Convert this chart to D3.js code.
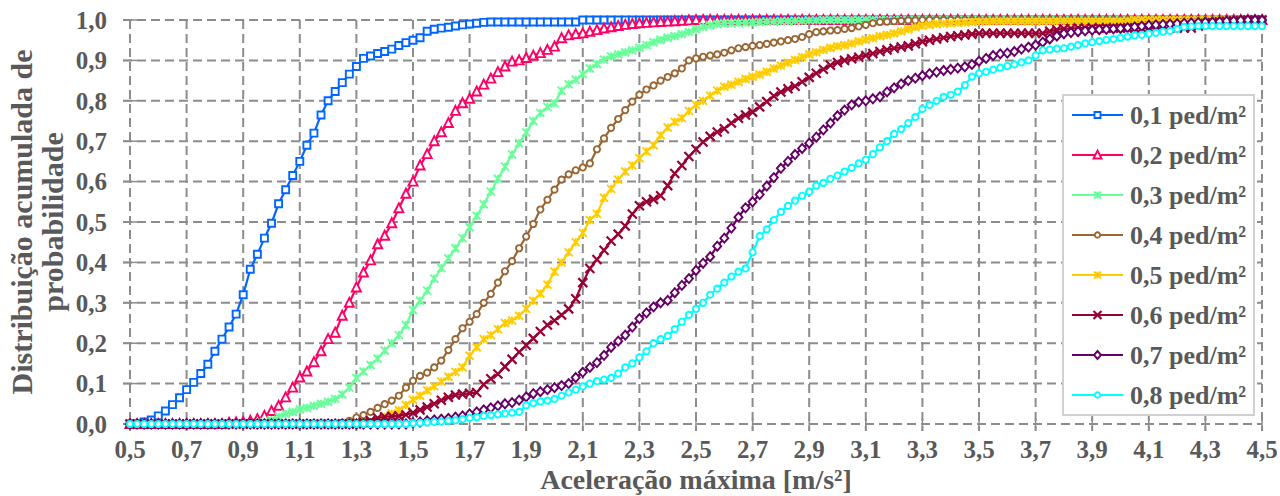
<!DOCTYPE html>
<html>
<head>
<meta charset="utf-8">
<script src="https://cdn.jsdelivr.net/npm/d3@7"></script>
<style>
  html, body { margin: 0; padding: 0; background: #fff; }
  svg { display: block; }
  text { font-family: "Liberation Serif", "Times New Roman", serif; font-weight: bold; fill: #595959; }
</style>
</head>
<body>
<svg id="chart" width="1280" height="496"></svg>
<script>
// Aceleração máxima [m/s²], read every 0.025
const acceleration = [
  0.500, 0.525, 0.550, 0.575, 0.600, 0.625, 0.650, 0.675, 0.700, 0.725,
  0.750, 0.775, 0.800, 0.825, 0.850, 0.875, 0.900, 0.925, 0.950, 0.975,
  1.000, 1.025, 1.050, 1.075, 1.100, 1.125, 1.150, 1.175, 1.200, 1.225,
  1.250, 1.275, 1.300, 1.325, 1.350, 1.375, 1.400, 1.425, 1.450, 1.475,
  1.500, 1.525, 1.550, 1.575, 1.600, 1.625, 1.650, 1.675, 1.700, 1.725,
  1.750, 1.775, 1.800, 1.825, 1.850, 1.875, 1.900, 1.925, 1.950, 1.975,
  2.000, 2.025, 2.050, 2.075, 2.100, 2.125, 2.150, 2.175, 2.200, 2.225,
  2.250, 2.275, 2.300, 2.325, 2.350, 2.375, 2.400, 2.425, 2.450, 2.475,
  2.500, 2.525, 2.550, 2.575, 2.600, 2.625, 2.650, 2.675, 2.700, 2.725,
  2.750, 2.775, 2.800, 2.825, 2.850, 2.875, 2.900, 2.925, 2.950, 2.975,
  3.000, 3.025, 3.050, 3.075, 3.100, 3.125, 3.150, 3.175, 3.200, 3.225,
  3.250, 3.275, 3.300, 3.325, 3.350, 3.375, 3.400, 3.425, 3.450, 3.475,
  3.500, 3.525, 3.550, 3.575, 3.600, 3.625, 3.650, 3.675, 3.700, 3.725,
  3.750, 3.775, 3.800, 3.825, 3.850, 3.875, 3.900, 3.925, 3.950, 3.975,
  4.000, 4.025, 4.050, 4.075, 4.100, 4.125, 4.150, 4.175, 4.200, 4.225,
  4.250, 4.275, 4.300, 4.325, 4.350, 4.375, 4.400, 4.425, 4.450, 4.475,
  4.500
];

const dens01 = [
  0, 0, 0.005, 0.01, 0.02, 0.032, 0.048, 0.065, 0.085, 0.103,
  0.125, 0.148, 0.18, 0.21, 0.24, 0.272, 0.32, 0.383, 0.42, 0.46,
  0.497, 0.545, 0.58, 0.615, 0.65, 0.69, 0.72, 0.765, 0.80, 0.823,
  0.845, 0.866, 0.885, 0.905, 0.911, 0.917, 0.922, 0.928, 0.937, 0.944,
  0.95, 0.956, 0.972, 0.977, 0.98, 0.982, 0.985, 0.988, 0.99, 0.992,
  0.994, 0.995, 0.995, 0.995, 0.995, 0.995, 0.995, 0.995, 0.995, 0.995,
  0.995, 0.995, 0.995, 0.995, 1, 1, 1, 1, 1, 1,
  1, 1, 1, 1, 1, 1, 1, 1, 1, 1,
  1, 1, 1, 1, 1, 1, 1, 1, 1, 1,
  1, 1, 1, 1, 1, 1, 1, 1, 1, 1,
  1, 1, 1, 1, 1, 1, 1, 1, 1, 1,
  1, 1, 1, 1, 1, 1, 1, 1, 1, 1,
  1, 1, 1, 1, 1, 1, 1, 1, 1, 1,
  1, 1, 1, 1, 1, 1, 1, 1, 1, 1,
  1, 1, 1, 1, 1, 1, 1, 1, 1, 1,
  1, 1, 1, 1, 1, 1, 1, 1, 1, 1,
  1
];
const dens02 = [
  0, 0, 0, 0, 0, 0, 0, 0, 0, 0,
  0, 0, 0, 0, 0.003, 0.004, 0.005, 0.008, 0.012, 0.02,
  0.032, 0.045, 0.066, 0.09, 0.115, 0.13, 0.153, 0.18, 0.21, 0.226,
  0.268, 0.30, 0.338, 0.375, 0.405, 0.445, 0.466, 0.497, 0.534, 0.57,
  0.60, 0.64, 0.668, 0.70, 0.722, 0.745, 0.775, 0.794, 0.805, 0.823,
  0.84, 0.855, 0.871, 0.885, 0.897, 0.90, 0.906, 0.912, 0.918, 0.926,
  0.934, 0.955, 0.962, 0.965, 0.967, 0.971, 0.975, 0.979, 0.982, 0.985,
  0.988, 0.99, 0.992, 0.993, 0.994, 0.995, 0.996, 0.997, 0.998, 0.999,
  1, 1, 1, 1, 1, 1, 1, 1, 1, 1,
  1, 1, 1, 1, 1, 1, 1, 1, 1, 1,
  1, 1, 1, 1, 1, 1, 1, 1, 1, 1,
  1, 1, 1, 1, 1, 1, 1, 1, 1, 1,
  1, 1, 1, 1, 1, 1, 1, 1, 1, 1,
  1, 1, 1, 1, 1, 1, 1, 1, 1, 1,
  1, 1, 1, 1, 1, 1, 1, 1, 1, 1,
  1, 1, 1, 1, 1, 1, 1, 1, 1, 1,
  1
];
const dens03 = [
  0, 0, 0, 0, 0, 0, 0, 0, 0, 0,
  0, 0, 0, 0, 0, 0, 0, 0, 0, 0.005,
  0.01, 0.018, 0.025, 0.03, 0.036, 0.04, 0.045, 0.05, 0.055, 0.062,
  0.073, 0.09, 0.114, 0.13, 0.146, 0.162, 0.182, 0.20, 0.22, 0.245,
  0.282, 0.305, 0.33, 0.36, 0.386, 0.41, 0.435, 0.46, 0.487, 0.515,
  0.544, 0.575, 0.607, 0.637, 0.667, 0.695, 0.722, 0.75, 0.77, 0.785,
  0.794, 0.825, 0.841, 0.852, 0.866, 0.88, 0.891, 0.902, 0.91, 0.915,
  0.92, 0.925, 0.931, 0.938, 0.945, 0.951, 0.956, 0.96, 0.965, 0.97,
  0.977, 0.983, 0.987, 0.99, 0.992, 0.992, 0.993, 0.993, 0.994, 0.995,
  0.996, 0.996, 0.997, 0.997, 0.998, 0.998, 0.999, 0.999, 1, 1,
  1, 1, 1, 1, 1, 1, 1, 1, 1, 1,
  1, 1, 1, 1, 1, 1, 1, 1, 1, 1,
  1, 1, 1, 1, 1, 1, 1, 1, 1, 1,
  1, 1, 1, 1, 1, 1, 1, 1, 1, 1,
  1, 1, 1, 1, 1, 1, 1, 1, 1, 1,
  1, 1, 1, 1, 1, 1, 1, 1, 1, 1,
  1
];
const dens04 = [
  0, 0, 0, 0, 0, 0, 0, 0, 0, 0,
  0, 0, 0, 0, 0, 0, 0, 0, 0, 0,
  0, 0, 0, 0, 0, 0, 0, 0, 0, 0,
  0.003, 0.008, 0.016, 0.022, 0.03, 0.04, 0.049, 0.058, 0.07, 0.09,
  0.107, 0.119, 0.127, 0.14, 0.157, 0.183, 0.21, 0.237, 0.253, 0.272,
  0.30, 0.322, 0.35, 0.378, 0.403, 0.435, 0.464, 0.495, 0.531, 0.555,
  0.58, 0.605, 0.618, 0.628, 0.635, 0.645, 0.68, 0.707, 0.733, 0.755,
  0.777, 0.798, 0.815, 0.828, 0.838, 0.85, 0.859, 0.868, 0.88, 0.90,
  0.905, 0.909, 0.912, 0.915, 0.919, 0.925, 0.93, 0.933, 0.936, 0.938,
  0.941, 0.944, 0.947, 0.95, 0.953, 0.958, 0.965, 0.97, 0.972, 0.974,
  0.975, 0.978, 0.98, 0.984, 0.988, 0.992, 0.995, 0.996, 0.997, 0.998,
  0.999, 0.999, 1, 1, 1, 1, 1, 1, 1, 1,
  1, 1, 1, 1, 1, 1, 1, 1, 1, 1,
  1, 1, 1, 1, 1, 1, 1, 1, 1, 1,
  1, 1, 1, 1, 1, 1, 1, 1, 1, 1,
  1, 1, 1, 1, 1, 1, 1, 1, 1, 1,
  1
];
const dens05 = [
  0, 0, 0, 0, 0, 0, 0, 0, 0, 0,
  0, 0, 0, 0, 0, 0, 0, 0, 0, 0,
  0, 0, 0, 0, 0, 0, 0, 0, 0, 0,
  0, 0, 0, 0.002, 0.005, 0.01, 0.018, 0.026, 0.034, 0.047,
  0.06, 0.07, 0.083, 0.093, 0.105, 0.117, 0.129, 0.14, 0.169, 0.19,
  0.21, 0.22, 0.235, 0.25, 0.256, 0.268, 0.285, 0.305, 0.323, 0.345,
  0.377, 0.40, 0.425, 0.45, 0.473, 0.505, 0.52, 0.56, 0.582, 0.605,
  0.625, 0.64, 0.658, 0.675, 0.69, 0.715, 0.734, 0.748, 0.757, 0.775,
  0.79, 0.80, 0.813, 0.825, 0.835, 0.84, 0.847, 0.854, 0.86, 0.865,
  0.872, 0.88, 0.887, 0.894, 0.901, 0.908, 0.915, 0.92, 0.926, 0.931,
  0.935, 0.938, 0.942, 0.947, 0.951, 0.955, 0.96, 0.963, 0.967, 0.972,
  0.977, 0.982, 0.986, 0.988, 0.99, 0.991, 0.992, 0.993, 0.994, 0.995,
  0.996, 0.996, 0.997, 0.997, 0.997, 0.997, 0.997, 0.997, 0.997, 0.997,
  0.997, 0.997, 0.997, 0.997, 0.997, 0.997, 0.997, 0.997, 0.997, 0.997,
  0.997, 0.998, 1, 1, 1, 1, 1, 1, 1, 1,
  1, 1, 1, 1, 1, 1, 1, 1, 1, 1,
  1
];
const dens06 = [
  0, 0, 0, 0, 0, 0, 0, 0, 0, 0,
  0, 0, 0, 0, 0, 0, 0, 0, 0, 0,
  0, 0, 0, 0, 0, 0, 0, 0, 0, 0,
  0, 0, 0, 0.004, 0.008, 0.015, 0.018, 0.019, 0.02, 0.023,
  0.028, 0.035, 0.042, 0.05, 0.059, 0.066, 0.072, 0.074, 0.076, 0.078,
  0.098, 0.112, 0.124, 0.142, 0.16, 0.178, 0.195, 0.212, 0.229, 0.245,
  0.256, 0.27, 0.285, 0.31, 0.35, 0.385, 0.407, 0.43, 0.453, 0.47,
  0.49, 0.52, 0.54, 0.55, 0.556, 0.565, 0.59, 0.62, 0.64, 0.662,
  0.68, 0.698, 0.712, 0.723, 0.731, 0.745, 0.757, 0.765, 0.772, 0.785,
  0.798, 0.812, 0.822, 0.83, 0.836, 0.847, 0.858, 0.868, 0.878, 0.888,
  0.895, 0.90, 0.904, 0.908, 0.912, 0.917, 0.922, 0.926, 0.93, 0.933,
  0.936, 0.941, 0.946, 0.95, 0.953, 0.956, 0.959, 0.961, 0.963, 0.965,
  0.967, 0.967, 0.967, 0.967, 0.967, 0.967, 0.967, 0.967, 0.967, 0.967,
  0.972, 0.976, 0.978, 0.979, 0.98, 0.98, 0.98, 0.98, 0.98, 0.98,
  0.98, 0.98, 0.98, 0.98, 0.98, 0.98, 0.98, 0.98, 0.98, 0.98,
  0.98, 0.985, 0.99, 0.993, 0.995, 0.997, 0.998, 0.999, 1, 1,
  1
];
const dens07 = [
  0, 0, 0, 0, 0, 0, 0, 0, 0, 0,
  0, 0, 0, 0, 0, 0, 0, 0, 0, 0,
  0, 0, 0, 0, 0, 0, 0, 0, 0, 0,
  0, 0, 0, 0, 0, 0, 0, 0, 0, 0,
  0.003, 0.005, 0.008, 0.01, 0.012, 0.014, 0.017, 0.02, 0.025, 0.03,
  0.035, 0.04, 0.045, 0.05, 0.053, 0.059, 0.067, 0.075, 0.08, 0.085,
  0.09, 0.095, 0.10, 0.115, 0.128, 0.14, 0.152, 0.17, 0.19, 0.205,
  0.22, 0.24, 0.261, 0.275, 0.29, 0.30, 0.306, 0.325, 0.343, 0.36,
  0.38, 0.398, 0.414, 0.44, 0.46, 0.485, 0.512, 0.535, 0.55, 0.568,
  0.589, 0.61, 0.633, 0.65, 0.667, 0.682, 0.695, 0.71, 0.728, 0.745,
  0.763, 0.777, 0.79, 0.797, 0.80, 0.805, 0.81, 0.822, 0.832, 0.842,
  0.85, 0.856, 0.862, 0.867, 0.871, 0.875, 0.878, 0.881, 0.884, 0.89,
  0.898, 0.905, 0.912, 0.916, 0.918, 0.922, 0.928, 0.933, 0.938, 0.945,
  0.953, 0.96, 0.966, 0.969, 0.971, 0.973, 0.975, 0.976, 0.977, 0.978,
  0.979, 0.981, 0.983, 0.985, 0.987, 0.988, 0.989, 0.99, 0.991, 0.992,
  0.993, 0.994, 0.995, 0.995, 0.996, 0.997, 0.998, 0.999, 1, 1,
  1
];
const dens08 = [
  0, 0, 0, 0, 0, 0, 0, 0, 0, 0,
  0, 0, 0, 0, 0, 0, 0, 0, 0, 0,
  0, 0, 0, 0, 0, 0, 0, 0, 0, 0,
  0, 0, 0, 0, 0, 0, 0, 0, 0, 0,
  0.002, 0.003, 0.004, 0.005, 0.006, 0.008, 0.009, 0.012, 0.015, 0.017,
  0.02, 0.022, 0.024, 0.026, 0.028, 0.03, 0.046, 0.052, 0.056, 0.058,
  0.062, 0.07, 0.078, 0.085, 0.093, 0.10, 0.106, 0.11, 0.114, 0.125,
  0.14, 0.15, 0.165, 0.18, 0.20, 0.21, 0.218, 0.235, 0.253, 0.27,
  0.285, 0.30, 0.32, 0.335, 0.35, 0.365, 0.377, 0.385, 0.425, 0.465,
  0.482, 0.505, 0.525, 0.54, 0.553, 0.565, 0.575, 0.59, 0.597, 0.607,
  0.615, 0.625, 0.634, 0.645, 0.654, 0.668, 0.685, 0.70, 0.718, 0.73,
  0.745, 0.76, 0.78, 0.79, 0.80, 0.81, 0.815, 0.823, 0.839, 0.86,
  0.868, 0.872, 0.877, 0.882, 0.886, 0.89, 0.895, 0.90, 0.912, 0.925,
  0.927, 0.929, 0.93, 0.934, 0.938, 0.942, 0.945, 0.948, 0.951, 0.953,
  0.956, 0.959, 0.962, 0.963, 0.966, 0.968, 0.971, 0.973, 0.978, 0.983,
  0.984, 0.985, 0.985, 0.985, 0.985, 0.985, 0.985, 0.985, 0.985, 0.985,
  0.985
];

const seriesNames = ["0,1 ped/m²", "0,2 ped/m²", "0,3 ped/m²", "0,4 ped/m²",
                     "0,5 ped/m²", "0,6 ped/m²", "0,7 ped/m²", "0,8 ped/m²"];
const seriesValues = [dens01, dens02, dens03, dens04, dens05, dens06, dens07, dens08];
const seriesColors = ["#0066ff", "#ff0066", "#66ff99", "#996633",
                      "#ffcc00", "#990033", "#660066", "#00ffff"];
const seriesMarkers = ["square", "triangle", "star", "circle", "star", "x", "diamond", "circle"];

const xTicks = [0.5, 0.7, 0.9, 1.1, 1.3, 1.5, 1.7, 1.9, 2.1, 2.3, 2.5, 2.7, 2.9,
                3.1, 3.3, 3.5, 3.7, 3.9, 4.1, 4.3, 4.5];
const yTicks = [0, 0.1, 0.2, 0.3, 0.4, 0.5, 0.6, 0.7, 0.8, 0.9, 1.0];

const svg = d3.select('#chart');
const width = 1280, height = 496;
const margin = { top: 20, right: 18, bottom: 72, left: 130 };

const x = d3.scaleLinear().domain([0.5, 4.5]).range([margin.left, width - margin.right]);
const y = d3.scaleLinear().domain([0, 1]).range([height - margin.bottom, margin.top]);
const fmt = v => d3.format(".1f")(v).replace(".", ",");

const gridColor = "#8c8c8c";

// Grid (dashed) + axis ticks
const grid = svg.append("g");
grid.selectAll("line.h").data(yTicks).enter().append("line")
    .attr("x1", x(0.5) - 7).attr("x2", x(4.5))
    .attr("y1", d => y(d)).attr("y2", d => y(d))
    .attr("stroke", gridColor).attr("stroke-width", 2)
    .attr("stroke-dasharray", "9,5");
grid.selectAll("line.v").data(xTicks).enter().append("line")
    .attr("x1", d => x(d)).attr("x2", d => x(d))
    .attr("y1", y(1)).attr("y2", y(0) + 7)
    .attr("stroke", gridColor).attr("stroke-width", 2)
    .attr("stroke-dasharray", "9,5");
grid.selectAll("line.yt").data(yTicks).enter().append("line")
    .attr("x1", x(0.5) - 7).attr("x2", x(0.5) + 7)
    .attr("y1", d => y(d)).attr("y2", d => y(d))
    .attr("stroke", gridColor).attr("stroke-width", 1.5);
grid.selectAll("line.xt").data(xTicks).enter().append("line")
    .attr("x1", d => x(d)).attr("x2", d => x(d))
    .attr("y1", y(0) - 6).attr("y2", y(0) + 7)
    .attr("stroke", gridColor).attr("stroke-width", 1.5);

// Tick labels
svg.append("g").selectAll("text").data(yTicks).enter().append("text")
    .attr("x", 107).attr("y", d => y(d)).attr("dy", "0.35em")
    .attr("text-anchor", "end").attr("font-size", "25px")
    .text(fmt);
svg.append("g").selectAll("text").data(xTicks).enter().append("text")
    .attr("x", d => x(d)).attr("y", 458)
    .attr("text-anchor", "middle").attr("font-size", "25px")
    .text(fmt);

// Axis titles
svg.append("text")
    .attr("x", (x(0.5) + x(4.5)) / 2).attr("y", 489)
    .attr("text-anchor", "middle").attr("font-size", "28px")
    .text("Aceleração máxima [m/s²]");
const yTitle = svg.append("text")
    .attr("transform", `translate(0,${(y(0) + y(1)) / 2}) rotate(-90)`)
    .attr("text-anchor", "middle").attr("font-size", "30px");
yTitle.append("tspan").attr("x", 0).attr("y", 32).text("Distribuição acumulada de");
yTitle.append("tspan").attr("x", 0).attr("y", 63).text("probabilidade");

// Marker shapes
function markerPath(type, s) {
    const h = s / 2;
    switch (type) {
        case "square": return `M${-h},${-h}H${h}V${h}H${-h}Z`;
        case "triangle": return `M0,${-h - 1}L${h + 0.5},${h}H${-h - 0.5}Z`;
        case "diamond": return `M0,${-h - 0.5}L${h},0L0,${h + 0.5}L${-h},0Z`;
        case "circle": return d3.symbol(d3.symbolCircle, Math.PI * h * h * 0.8)();
        case "x": return `M${-h},${-h}L${h},${h}M${h},${-h}L${-h},${h}`;
        case "star": return `M${-h},${-h}L${h},${h}M${h},${-h}L${-h},${h}M0,${-h}V${h}`;
    }
}
const markerSize = { square: 7, triangle: 8, diamond: 8, circle: 7, x: 9, star: 8 };
const openMarker = t => t === "square" || t === "triangle" || t === "diamond" || t === "circle";

const line = d3.line().x((d, i) => x(acceleration[i])).y(d => y(d));

const plot = svg.append("g");
seriesValues.forEach((vals, k) => {
    const g = plot.append("g");
    const type = seriesMarkers[k];
    g.append("path").datum(vals)
        .attr("d", line)
        .attr("fill", "none")
        .attr("stroke", seriesColors[k])
        .attr("stroke-width", 2.2);
    g.selectAll("path.m").data(vals).enter().append("path")
        .attr("class", "m")
        .attr("transform", (d, i) => `translate(${x(acceleration[i])},${y(d)})`)
        .attr("d", markerPath(type, markerSize[type]))
        .attr("fill", openMarker(type) ? "#fff" : "none")
        .attr("stroke", seriesColors[k])
        .attr("stroke-width", type === "x" ? 2.2 : 1.9);
});

// Legend
const legend = svg.append("g");
legend.append("rect")
    .attr("x", 1063).attr("y", 95).attr("width", 191).attr("height", 320)
    .attr("fill", "#fff").attr("stroke", "#d0d0d0").attr("stroke-width", 2);
seriesNames.forEach((name, k) => {
    const cy = 115 + k * 40;
    const type = seriesMarkers[k];
    legend.append("line")
        .attr("x1", 1072).attr("x2", 1123).attr("y1", cy).attr("y2", cy)
        .attr("stroke", seriesColors[k]).attr("stroke-width", 2.2);
    legend.append("path")
        .attr("transform", `translate(1097.5,${cy})`)
        .attr("d", markerPath(type, markerSize[type] - 1))
        .attr("fill", openMarker(type) ? "#fff" : "none")
        .attr("stroke", seriesColors[k])
        .attr("stroke-width", type === "x" ? 2.2 : 1.9);
    legend.append("text")
        .attr("x", 1130).attr("y", cy).attr("dy", "0.35em")
        .attr("font-size", "26px")
        .text(name);
});
</script>
</body>
</html>
